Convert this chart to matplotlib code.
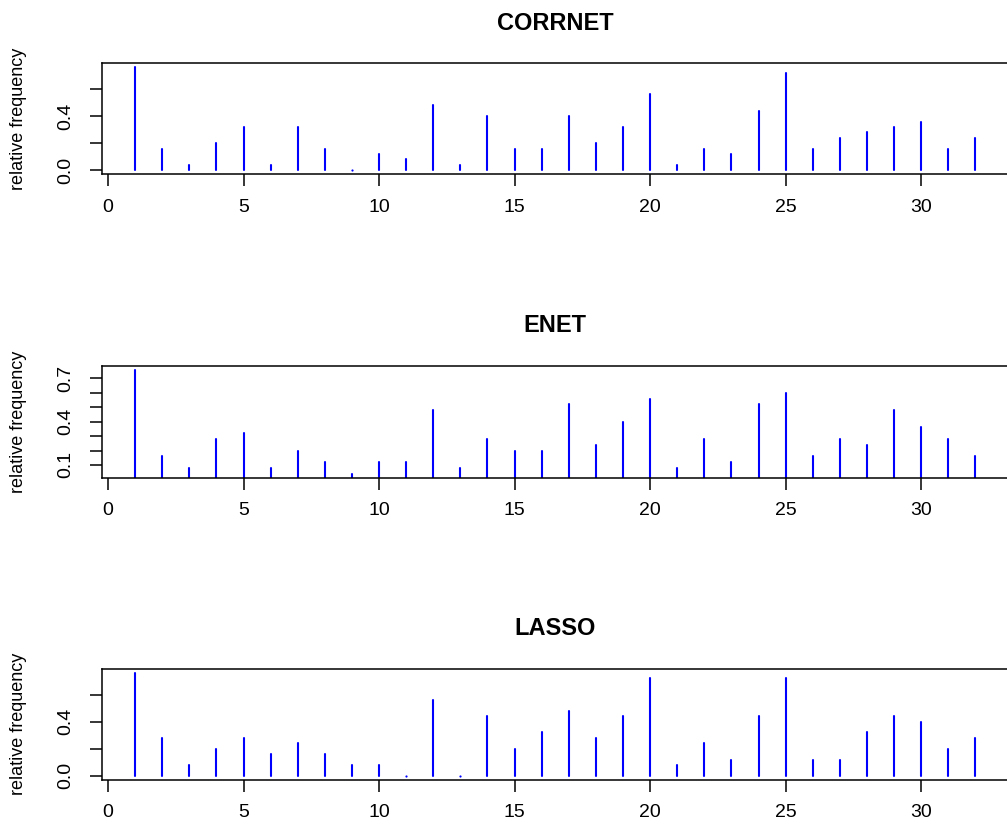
import numpy as np
import matplotlib
matplotlib.use("Agg")
import matplotlib.pyplot as plt

plt.rcParams['font.family'] = ['Liberation Sans', 'DejaVu Sans']

# ---------- data ----------
predictors = list(range(1, 33))

corrnet = [0.76, 0.16, 0.04, 0.20, 0.32, 0.04, 0.32, 0.16, 0.00, 0.12,
           0.08, 0.48, 0.04, 0.40, 0.16, 0.16, 0.40, 0.20, 0.32, 0.56,
           0.04, 0.16, 0.12, 0.44, 0.72, 0.16, 0.24, 0.28, 0.32, 0.36,
           0.16, 0.24]

enet = [0.76, 0.16, 0.08, 0.28, 0.32, 0.08, 0.20, 0.12, 0.04, 0.12,
        0.12, 0.48, 0.08, 0.28, 0.20, 0.20, 0.52, 0.24, 0.40, 0.56,
        0.08, 0.28, 0.12, 0.52, 0.60, 0.16, 0.28, 0.24, 0.48, 0.36,
        0.28, 0.16]

lasso = [0.76, 0.28, 0.08, 0.20, 0.28, 0.16, 0.24, 0.16, 0.08, 0.08,
         0.00, 0.56, 0.00, 0.44, 0.20, 0.32, 0.48, 0.28, 0.44, 0.72,
         0.08, 0.24, 0.12, 0.44, 0.72, 0.12, 0.12, 0.32, 0.44, 0.40,
         0.20, 0.28]

titles = ["CORRNET", "ENET", "LASSO"]
series = [corrnet, enet, lasso]

x_ticks = [0, 5, 10, 15, 20, 25, 30]
y_ticks = [[0.0, 0.2, 0.4, 0.6],
           [0.1, 0.2, 0.3, 0.4, 0.5, 0.6, 0.7],
           [0.0, 0.2, 0.4, 0.6]]
y_labels = [["0.0", "", "0.4", ""],
            ["0.1", "", "", "0.4", "", "", "0.7"],
            ["0.0", "", "0.4", ""]]


def r_range(vals):
    # R style axis range: data range padded by 4% on each side
    lo, hi = min(vals), max(vals)
    d = (hi - lo) * 0.04
    return lo - d, hi + d


# ---------- figure ----------
W, H = 1007, 824
fig = plt.figure(figsize=(W / 100, H / 100), dpi=100)

# box top / bottom in pixels for each panel
boxes = [(63.3, 174.3), (365.7, 477.7), (668.7, 780.0)]
left_px, right_px = 101.5, 1009.0

for i, (title, vals) in enumerate(zip(titles, series)):
    top, bot = boxes[i]
    ax = fig.add_axes([left_px / W, 1 - bot / H,
                       (right_px - left_px) / W, (bot - top) / H])

    ax.vlines(predictors, 0, vals, colors="blue", linewidth=1.5,
              capstyle="round")
    # type="h" leaves a dot for zero-height spikes
    zx = [p for p, v in zip(predictors, vals) if v == 0]
    if zx:
        ax.scatter(zx, [0] * len(zx), s=2.5, color="blue", linewidths=0)

    ax.set_xlim(*r_range(predictors))
    ax.set_ylim(*r_range(vals))

    ax.set_xticks(x_ticks)
    ax.set_xticklabels([str(t) for t in x_ticks])
    ax.set_yticks(y_ticks[i])
    ax.set_yticklabels(y_labels[i], rotation=90, va="center")

    ax.tick_params(axis="both", direction="out", length=8.5, width=1.1,
                   labelsize=14, color="black")
    ax.tick_params(axis="x", pad=9)
    ax.tick_params(axis="y", pad=11)

    for sp in ax.spines.values():
        sp.set_linewidth(1.1)

    ax.set_title(title, fontsize=17, fontweight="bold", pad=24)
    ax.set_ylabel("relative frequency", fontsize=13, va="center")
    ax.yaxis.set_label_coords((19 - left_px) / (right_px - left_px), 0.5)

fig.savefig("out.png", dpi=100)
